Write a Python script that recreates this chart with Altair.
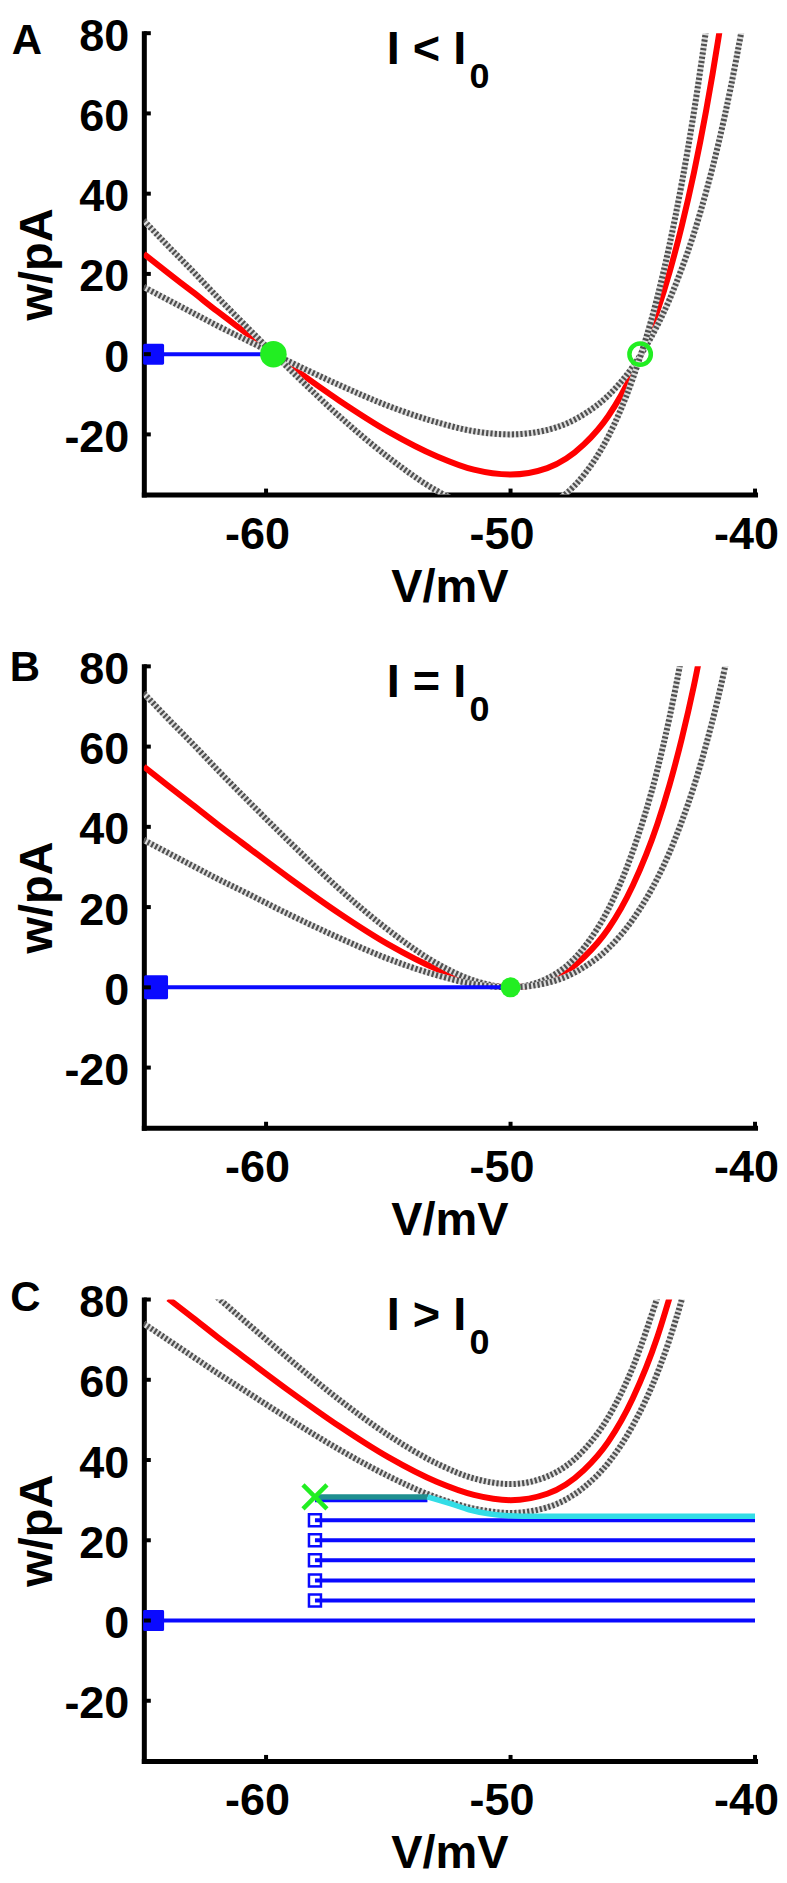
import altair as alt
import pandas as pd

N = None
# ---------------- data ----------------
V_GRID = [-65, -64, -63, -62, -61, -59, -57, -55, -53, -51.5, -50, -48.5,
          -47, -46, -45, -44, -43.5, -43, -42.5, -42, -41.5, -41, -40.5, -40]

# Panel A  (I < I0)
A_RED   = [25.0, 20.2, 15.5, 10.7, 6.1, -3.0, -11.6, -19.3, -25.5, -28.8, -30.0, -28.4,
           -22.5, -15.4, -4.6, 10.6, 20.4, 31.9, 45.2, 60.7, 78.6, 99.4, N, N]
A_UPPER = [16.7, 13.5, 10.3, 7.1, 4.1, -2.0, -7.7, -12.9, -17.0, -19.2, -20.0, -18.9,
           -15.0, -10.3, -3.1, 7.1, 13.6, 21.3, 30.1, 40.5, 52.4, 66.3, 82.3, N]
A_LOWER = [33.3, 26.9, 20.7, 14.3, 8.1, -4.0, -15.5, -25.7, -34.1, -38.3, -40.0, -37.8,
           -30.1, -20.5, -6.1, 14.1, 27.2, 42.5, 60.3, 80.9, N, N, N, N]
A_BLUE_V = [-64.6, -59.7]
A_STABLE = (-59.7, 0)
A_UNSTABLE = (-44.7, 0)

# Panel B  (I = I0)
B_RED   = [55.0, 50.2, 45.5, 40.7, 36.1, 27.0, 18.4, 10.7, 4.5, 1.3, 0.0, 1.6,
           7.5, 14.6, 25.4, 40.6, 50.4, 61.9, 75.2, 90.7, N, N, N, N]
B_UPPER = [73.3, 66.9, 60.7, 54.3, 48.1, 36.0, 24.5, 14.3, 5.9, 1.7, 0.0, 2.2,
           9.9, 19.5, 33.9, 54.1, 67.2, 82.5, N, N, N, N, N, N]
B_LOWER = [36.7, 33.5, 30.3, 27.1, 24.1, 18.0, 12.3, 7.1, 3.0, 0.8, 0.0, 1.1,
           5.0, 9.7, 16.9, 27.1, 33.6, 41.3, 50.1, 60.5, 72.4, 86.3, N, N]
B_BLUE_V = [-64.5, -50.0]
B_SADDLE = (-50.0, 0)

# Panel C  (I > I0)
C_RED   = [N, 80.2, 75.5, 70.7, 66.1, 57.0, 48.4, 40.7, 34.5, 31.3, 30.0, 31.6,
           37.5, 44.6, 55.4, 70.6, 80.4, N, N, N, N, N, N, N]
C_UPPER = [N, N, N, 80.6, 75.3, 64.9, 55.0, 46.2, 39.1, 35.4, 34.0, 35.9,
           42.5, 50.7, 63.1, 80.4, N, N, N, N, N, N, N, N]
C_LOWER = [74.0, 69.9, 65.8, 61.7, 57.8, 50.0, 42.6, 36.0, 30.6, 27.9, 26.8, 28.2,
           33.2, 39.3, 48.6, 61.6, 70.0, 79.9, 91.3, N, N, N, N, N]
C_TRAJ_W  = [0, 5, 10, 15, 20, 25, 30]
C_TRAJ_V0 = [-64.6, -58, -58, -58, -58, -58, -58]
C_TRAJ_V1 = [-40, -40, -40, -40, -40, -40, -53.4]
C_RESET_W = [5, 10, 15, 20, 25]
C_RESET_V = -58.0
C_TEAL_V = [-58.0, -53.4]
C_TEAL_W = [30.8, 30.8]
C_CYAN_V = [-53.4, -52.5, -51.7, -50.9, -50.1, -49.5, -40.0]
C_CYAN_W = [30.8, 29.2, 27.6, 26.6, 26.1, 26.0, 26.0]
C_CROSS = (-58.0, 30.8)

X_TICKS = [-60, -50, -40]
Y_TICKS = [80, 60, 40, 20, 0, -20]

# ---------------- styling ----------------
FONT = "Liberation Sans"
PW, PH = 612, 462
SPACING = 172
RED = "#ff0000"
DASH = "#505050"
DASH_BG = "#dcdcdc"
BLUE = "#0a0aff"
GREEN = "#22ee22"
TEAL = "#1f8f8f"
CYAN = "#33dde6"

XS = alt.Scale(domain=[-65, -40], nice=False, zero=False)
YS = alt.Scale(domain=[-35, 80], nice=False, zero=False)
XAX = alt.Axis(values=X_TICKS, title="V/mV", labelPadding=18, labelOffset=-9,
               labelExpr="'' + datum.value",
               titleY=93, titleBaseline="middle")
YAX = alt.Axis(values=Y_TICKS, title="w/pA", labelPadding=15, labelOffset=3,
               labelExpr="'' + datum.value",
               titleX=-106, titleY=PH / 2, titleAngle=270, titleAlign="center",
               titleBaseline="middle")


def X(f="V"):
    return alt.X(f"{f}:Q", scale=XS, axis=XAX)


def Y(f="w"):
    return alt.Y(f"{f}:Q", scale=YS, axis=YAX)


def curve_df(ws):
    return pd.DataFrame({"V": V_GRID, "w": ws}).dropna()


def red_line(ws):
    return alt.Chart(curve_df(ws)).mark_line(
        color=RED, strokeWidth=6, interpolate="monotone", clip=True
    ).encode(x=X(), y=Y())


def dashed_line(ws):
    df = curve_df(ws)
    bg = alt.Chart(df).mark_line(color=DASH_BG, strokeWidth=6, interpolate="monotone",
                                 clip=True).encode(x=X(), y=Y())
    fg = alt.Chart(df).mark_line(color=DASH, strokeWidth=6, interpolate="monotone",
                                 strokeDash=[2.2, 2.1], clip=True).encode(x=X(), y=Y())
    return [bg, fg]


def seg(vs, ws, color, width, interp="linear"):
    return alt.Chart(pd.DataFrame({"V": vs, "w": ws})).mark_line(
        color=color, strokeWidth=width, interpolate=interp, clip=True
    ).encode(x=X(), y=Y())


def point(v, w, **kw):
    return alt.Chart(pd.DataFrame({"V": [v], "w": [w]})).mark_point(
        clip=False, **kw).encode(x=X(), y=Y())


def text(t, x, y, size):
    return alt.Chart(pd.DataFrame({"t": [t]})).mark_text(
        font=FONT, fontWeight="bold", fontSize=size, color="black",
        align="center", baseline="middle"
    ).encode(text="t:N", x=alt.value(x), y=alt.value(y))


def tick_layers():
    yt = alt.Chart(pd.DataFrame({"w": Y_TICKS})).mark_rule(
        color="black", strokeWidth=4).encode(y=Y(), x=alt.value(0), x2=alt.value(7))
    xt = alt.Chart(pd.DataFrame({"V": X_TICKS})).mark_rule(
        color="black", strokeWidth=4).encode(x=X(), y=alt.value(PH), y2=alt.value(PH - 6))
    return [yt, xt]


def labels(letter, lx, ly, rel):
    return [
        text(letter, lx, ly, 42),
        text(f"I {rel} I", 283, 16.7, 47),
        text("0", 336, 44, 36),
    ]


# ---------------- Panel A ----------------
pa = [red_line(A_RED)] + dashed_line(A_UPPER) + dashed_line(A_LOWER) + [
    seg(A_BLUE_V, [0, 0], BLUE, 4),
    point(A_BLUE_V[0], 0, shape="square", filled=True, size=324, color=BLUE,
          stroke=BLUE, strokeWidth=3, strokeJoin="round", opacity=1),
    point(A_STABLE[0], A_STABLE[1], shape="circle", filled=True, size=707,
          color=GREEN, opacity=1),
    point(A_UNSTABLE[0], A_UNSTABLE[1], shape="circle", filled=False, size=460,
          color=GREEN, strokeWidth=4.5, opacity=1),
] + tick_layers() + labels("A", -117, 8.1, "<")
panel_a = alt.layer(*pa).properties(width=PW, height=PH)

# ---------------- Panel B ----------------
pb = [red_line(B_RED)] + dashed_line(B_UPPER) + dashed_line(B_LOWER) + [
    seg(B_BLUE_V, [0, 0], BLUE, 4),
    point(B_BLUE_V[0], 0, shape="square", filled=True, size=441, color=BLUE,
          stroke=BLUE, strokeWidth=3, strokeJoin="round", opacity=1),
    point(B_SADDLE[0], B_SADDLE[1], shape="circle", filled=True, size=398,
          color=GREEN, opacity=1),
] + tick_layers() + labels("B", -119, 1.7, "=")
panel_b = alt.layer(*pb).properties(width=PW, height=PH)

# ---------------- Panel C ----------------
traj_rows = []
for i, (w, v0, v1) in enumerate(zip(C_TRAJ_W, C_TRAJ_V0, C_TRAJ_V1)):
    traj_rows.append({"k": i, "V": v0, "w": w})
    traj_rows.append({"k": i, "V": v1, "w": w})
traj = alt.Chart(pd.DataFrame(traj_rows)).mark_line(
    color=BLUE, strokeWidth=4, clip=True).encode(x=X(), y=Y(), detail="k:N")
resets = alt.Chart(pd.DataFrame({"V": [C_RESET_V] * len(C_RESET_W), "w": C_RESET_W})).mark_point(
    shape="square", filled=False, size=144, color=BLUE, strokeWidth=2.5, opacity=1
).encode(x=X(), y=Y())

pc = [red_line(C_RED)] + dashed_line(C_UPPER) + dashed_line(C_LOWER) + [
    traj,
    resets,
    seg(C_TEAL_V, C_TEAL_W, TEAL, 5.5),
    seg(C_CYAN_V, C_CYAN_W, CYAN, 5.5, interp="monotone"),
    point(C_TRAJ_V0[0], 0, shape="square", filled=True, size=324, color=BLUE,
          stroke=BLUE, strokeWidth=3, strokeJoin="round", opacity=1),
    point(C_CROSS[0], C_CROSS[1], shape="M-1,-1L1,1M-1,1L1,-1", filled=False,
          size=576, color=GREEN, strokeWidth=4.5, opacity=1),
] + tick_layers() + labels("C", -118.5, -1.3, ">")
panel_c = alt.layer(*pc).properties(width=PW, height=PH)

chart = alt.vconcat(panel_a, panel_b, panel_c, spacing=SPACING, bounds="flush").properties(
    padding={"left": 1, "top": 5, "right": 0, "bottom": 2},
    background="white",
).configure_view(stroke=None).configure_axis(
    grid=False, ticks=False, tickSize=0,
    domainColor="black", domainWidth=5, domainCap="square",
    labelFont=FONT, labelFontSize=45, labelFontWeight="bold", labelColor="black",
    labelFlush=False, labelOverlap=False,
    titleFont=FONT, titleFontSize=47, titleFontWeight="bold", titleColor="black",
)

chart.save("out.html", embed_options={"renderer": "svg", "actions": False})
